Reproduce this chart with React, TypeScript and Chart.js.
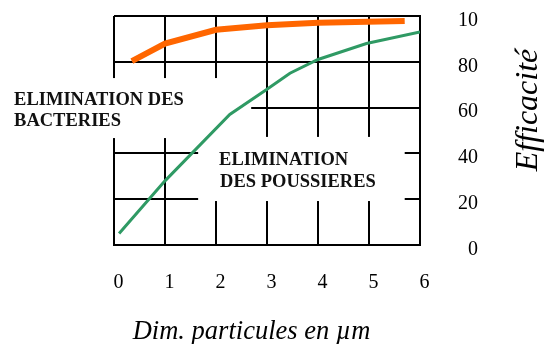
import React, { useEffect, useRef } from "react";
import { Chart, registerables } from "chart.js";

Chart.register(...registerables);

// ---- data ----
const xTickValues = [0, 1, 2, 3, 4, 5, 6];
const yTickLabels = ["0", "20", "40", "60", "80", "10"];

const dustX = [0.1, 1, 2.27, 3, 3.45, 4, 4.95, 6];
const dustY = [5, 28, 57, 68, 75, 81, 88, 93];

const bactX = [0.35, 1, 2, 3, 4, 5.7];
const bactY = [80.3, 88, 94, 96, 97, 97.8];

const xTitle = "Dim. particules en µm";
const yTitle = "Efficacité";
const bactLabel = ["ELIMINATION DES", "BACTERIES"];
const dustLabel = ["ELIMINATION", "DES POUSSIERES"];

const SERIF = "'Liberation Serif', 'Times New Roman', serif";

const overlayPlugin = {
  id: "overlay",
  beforeDatasetsDraw(chart: any) {
    const { ctx, scales } = chart;
    const x = scales.x;
    const y = scales.y;
    ctx.save();
    ctx.fillStyle = "#ffffff";
    // label boxes (data coordinates)
    const boxes = [
      [-2.3, 72.9, 2.69, 46.7],
      [1.65, 47.2, 5.7, 19.2],
    ];
    for (const [x0, y0, x1, y1] of boxes) {
      const px0 = x.getPixelForValue(x0);
      const px1 = x.getPixelForValue(x1);
      const py0 = y.getPixelForValue(y0);
      const py1 = y.getPixelForValue(y1);
      ctx.fillRect(px0, py0, px1 - px0, py1 - py0);
    }
    ctx.restore();
  },
  afterDatasetsDraw(chart: any) {
    const { ctx, scales, chartArea } = chart;
    const x = scales.x;
    const y = scales.y;
    ctx.save();
    ctx.fillStyle = "#111111";
    ctx.textAlign = "left";
    ctx.textBaseline = "alphabetic";
    ctx.font = `bold 18.5px ${SERIF}`;
    ctx.fillText(bactLabel[0], x.getPixelForValue(-1.96), y.getPixelForValue(61.1));
    ctx.fillText(bactLabel[1], x.getPixelForValue(-1.96), y.getPixelForValue(52.0));
    ctx.fillText(dustLabel[0], x.getPixelForValue(2.06), y.getPixelForValue(34.9));
    ctx.fillText(dustLabel[1], x.getPixelForValue(2.08), y.getPixelForValue(25.3));

    // axis titles
    ctx.fillStyle = "#000000";
    ctx.font = `italic 26.5px ${SERIF}`;
    ctx.textAlign = "center";
    ctx.fillText(xTitle, chartArea.left + 137.5, chartArea.bottom + 94);

    ctx.translate(chartArea.right + 117, chartArea.top + 94);
    ctx.rotate(-Math.PI / 2);
    ctx.font = `italic 32px ${SERIF}`;
    ctx.textAlign = "center";
    ctx.fillText(yTitle, 0, 0);
    ctx.restore();
  },
};

export default function App() {
  const canvasRef = useRef<HTMLCanvasElement | null>(null);

  useEffect(() => {
    if (!canvasRef.current) return;
    const chart = new Chart(canvasRef.current, {
      type: "line",
      data: {
        datasets: [
          {
            label: "Bactéries",
            data: bactX.map((v, i) => ({ x: v, y: bactY[i] })),
            borderColor: "#ff6600",
            borderWidth: 6,
            pointRadius: 0,
            tension: 0,
            borderCapStyle: "butt",
          },
          {
            label: "Poussières",
            data: dustX.map((v, i) => ({ x: v, y: dustY[i] })),
            borderColor: "#2f9a64",
            borderWidth: 3,
            pointRadius: 0,
            tension: 0,
          },
        ],
      },
      options: {
        responsive: false,
        animation: false,
        devicePixelRatio: 1,
        layout: { padding: { left: 114, top: 16, right: 71, bottom: 0 } },
        plugins: {
          legend: { display: false },
          tooltip: { enabled: false },
        },
        scales: {
          x: {
            type: "linear",
            position: "bottom",
            min: 0,
            max: 6,
            afterBuildTicks: (scale: any) => {
              scale.ticks = xTickValues.map((v) => ({ value: v }));
            },
            afterFit: (scale: any) => {
              scale.height = 99;
            },
            ticks: {
              color: "#000000",
              font: { family: SERIF, size: 20 },
              padding: 26,
              labelOffset: 4.5,
              maxRotation: 0,
              autoSkip: false,
            },
            grid: { color: "#000000", lineWidth: 2, drawTicks: false },
            border: { display: true, color: "#000000", width: 2 },
          },
          y: {
            type: "linear",
            position: "right",
            min: 0,
            max: 100,
            afterFit: (scale: any) => {
              scale.width = 58;
            },
            ticks: {
              stepSize: 20,
              color: "#000000",
              font: { family: SERIF, size: 20 },
              padding: 0,
              labelOffset: 4.5,
              crossAlign: "far",
              callback: (_v: any, i: number) => yTickLabels[i],
            },
            grid: { color: "#000000", lineWidth: 2, drawTicks: false },
            border: { display: true, color: "#000000", width: 2 },
          },
        },
      },
      plugins: [overlayPlugin],
    } as any);
    return () => chart.destroy();
  }, []);

  return (
    <div style={{ position: "absolute", left: 0, top: 0, width: 549, height: 344, background: "#fff" }}>
      <canvas ref={canvasRef} width={549} height={344} />
    </div>
  );
}
